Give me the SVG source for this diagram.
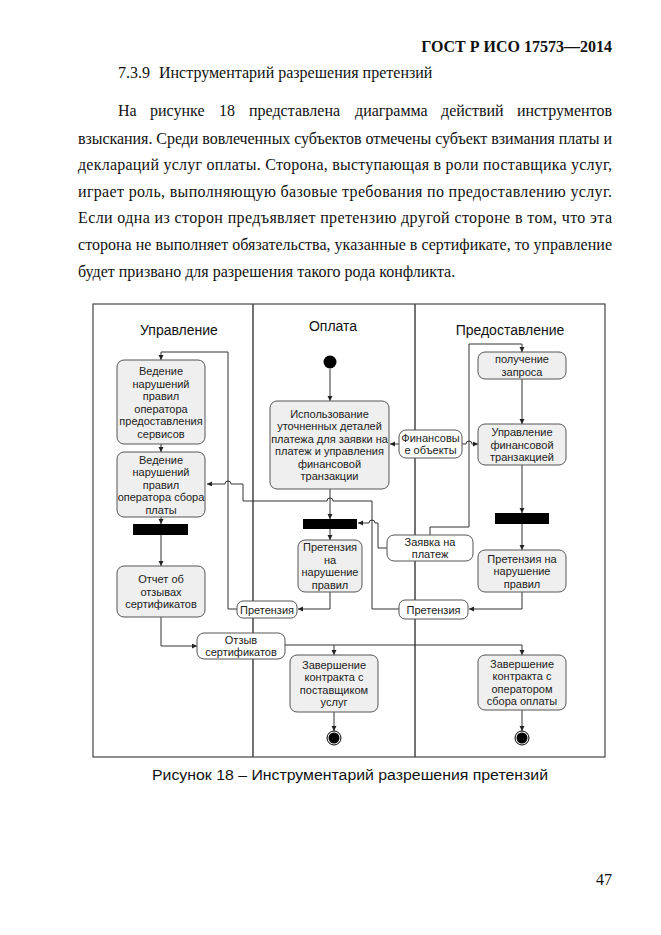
<svg xmlns="http://www.w3.org/2000/svg" width="661" height="935" viewBox="0 0 661 935">
<defs>
<style>
.page{font-family:"Liberation Serif","Times New Roman",serif;font-size:16px;fill:#111}
.act{fill:#efefef;stroke:#555;stroke-width:1}
.obj{fill:#fff;stroke:#555;stroke-width:1}
.t{font-family:"Liberation Sans",Arial,sans-serif;font-size:11px;fill:#222;text-anchor:middle}
.lt{font-family:"Liberation Sans",Arial,sans-serif;font-size:14px;fill:#111;text-anchor:middle}
.c{fill:none;stroke:#333;stroke-width:1}
.ca{fill:none;stroke:#333;stroke-width:1;marker-end:url(#ah)}
.bar{fill:#000}
.lane{fill:none;stroke:#444;stroke-width:1.5}
</style>
<marker id="ah" markerUnits="userSpaceOnUse" markerWidth="6" markerHeight="6" refX="5" refY="2.5" orient="auto">
<path d="M0,0 L5,2.5 L0,5 z" fill="#222"/>
</marker>
</defs>
<rect width="661" height="935" fill="#fff"/>

<g id="page-text">
<text class="page" x="612" y="52" text-anchor="end" font-weight="bold" font-size="13.5">ГОСТ Р ИСО 17573—2014</text>
<text class="page" y="78"><tspan x="118">7.3.9</tspan><tspan x="159">Инструментарий разрешения претензий</tspan></text>
<text class="page" y="116"><tspan x="118">На</tspan><tspan x="150">рисунке</tspan><tspan x="219">18</tspan><tspan x="249">представлена</tspan><tspan x="355">диаграмма</tspan><tspan x="441">действий</tspan></text>
<text class="page" x="612" y="116" text-anchor="end">инструментов</text>
<text class="page" x="78" y="144" textLength="534" lengthAdjust="spacing">взыскания. Среди вовлеченных субъектов отмечены субъект взимания платы и</text>
<text class="page" x="78" y="170" textLength="534" lengthAdjust="spacing">деклараций услуг оплаты. Сторона, выступающая в роли поставщика услуг,</text>
<text class="page" x="78" y="197" textLength="534" lengthAdjust="spacing">играет роль, выполняющую базовые требования по предоставлению услуг.</text>
<text class="page" x="78" y="223" textLength="534" lengthAdjust="spacing">Если одна из сторон предъявляет претензию другой стороне в том, что эта</text>
<text class="page" x="78" y="250" textLength="534" lengthAdjust="spacing">сторона не выполняет обязательства, указанные в сертификате, то управление</text>
<text class="page" x="78" y="277">будет призвано для разрешения такого рода конфликта.</text>
<text x="350" y="780" text-anchor="middle" font-family="'Liberation Sans',Arial,sans-serif" font-size="15.5" fill="#111" textLength="396" lengthAdjust="spacingAndGlyphs">Рисунок 18 – Инструментарий разрешения претензий</text>
<text class="page" x="612" y="885" text-anchor="end">47</text>
</g>

<g id="frame">
<rect x="93" y="304" width="512" height="453" fill="none" stroke="#444" stroke-width="1.2"/>
<line class="lane" x1="253" y1="304" x2="253" y2="757"/>
<line class="lane" x1="415" y1="304" x2="415" y2="757"/>
<text class="lt" x="179" y="335">Управление</text>
<text class="lt" x="333" y="331">Оплата</text>
<text class="lt" x="510" y="335">Предоставление</text>
</g>

<g id="connectors">
<path class="ca" d="M161,444 L161,452"/>
<path class="ca" d="M161,517 L161,524"/>
<path class="ca" d="M161,535 L161,566"/>
<path class="ca" d="M161,617 L161,646 L197,646"/>
<path class="ca" d="M237,609 L228,609 L228,352 L161,352 L161,360"/>
<path class="ca" d="M399,609 L372,609 L372,501 L333,501 A3,3 0 0 0 327,501 L243,501 L243,484 L231,484 A3,3 0 0 0 225,484 L207,484"/>
<path class="ca" d="M330,369 L330,401"/>
<path class="ca" d="M330,489 L330,519"/>
<path class="ca" d="M330,529 L330,540"/>
<path class="ca" d="M330,592 L330,609 L298,609"/>
<path class="ca" d="M399,444 L390,444"/>
<path class="ca" d="M462,444 L466,444 A3,3 0 0 1 472,444 L478,444"/>
<path class="ca" d="M387,548 L378,548 L378,523 L375,523 A3,3 0 0 0 369,523 L358,523"/>
<path class="ca" d="M430,535 L430,527 L469,527 L469,344 L522,344 L522,352"/>
<path class="ca" d="M522,379 L522,424"/>
<path class="ca" d="M522,465 L522,513"/>
<path class="ca" d="M522,524 L522,550"/>
<path class="ca" d="M522,592 L522,609 L469,609"/>
<path class="ca" d="M285,645 L522,645 L522,655"/>
<path class="ca" d="M334,645 L334,655"/>
<path class="ca" d="M334,712 L334,731"/>
<path class="ca" d="M522,710 L522,731"/>
</g>

<g id="node-a">
<rect class="act" x="117" y="360" width="88" height="84" rx="7"/>
<text class="t"><tspan x="161" y="375">Ведение</tspan><tspan x="161" y="387.5">нарушений</tspan><tspan x="161" y="400">правил</tspan><tspan x="161" y="412.5">оператора</tspan><tspan x="161" y="425">предоставления</tspan><tspan x="161" y="437.5">сервисов</tspan></text>
</g>
<g id="node-b">
<rect class="act" x="117" y="452" width="88" height="65" rx="7"/>
<text class="t"><tspan x="161" y="463.5">Ведение</tspan><tspan x="161" y="476">нарушений</tspan><tspan x="161" y="488.5">правил</tspan><tspan x="161" y="501">оператора сбора</tspan><tspan x="161" y="513.5">платы</tspan></text>
</g>
<g id="fork-1"><rect class="bar" x="133" y="524" width="55" height="11"/></g>
<g id="node-c">
<rect class="act" x="117" y="566" width="88" height="51" rx="7"/>
<text class="t"><tspan x="161" y="583">Отчет об</tspan><tspan x="161" y="595.5">отзывах</tspan><tspan x="161" y="608">сертификатов</tspan></text>
</g>

<g id="start"><circle cx="330" cy="362" r="6.5" fill="#000"/></g>
<g id="node-use">
<rect class="act" x="270" y="401" width="119" height="88" rx="7"/>
<text class="t"><tspan x="329.5" y="417.75">Использование</tspan><tspan x="329.5" y="430.25">уточненных деталей</tspan><tspan x="329.5" y="442.75">платежа для заявки на</tspan><tspan x="329.5" y="455.25">платеж и управления</tspan><tspan x="329.5" y="467.75">финансовой</tspan><tspan x="329.5" y="480.25">транзакции</tspan></text>
</g>
<g id="fork-2"><rect class="bar" x="303" y="519" width="54" height="10"/></g>
<g id="node-claim-mid">
<rect class="act" x="298" y="540" width="64" height="52" rx="7"/>
<text class="t"><tspan x="330" y="551.25">Претензия</tspan><tspan x="330" y="563.75">на</tspan><tspan x="330" y="576.25">нарушение</tspan><tspan x="330" y="588.75">правил</tspan></text>
</g>
<g id="node-end-provider">
<rect class="act" x="290" y="655" width="88" height="57" rx="7"/>
<text class="t"><tspan x="334" y="668.75">Завершение</tspan><tspan x="334" y="681.25">контракта с</tspan><tspan x="334" y="693.75">поставщиком</tspan><tspan x="334" y="706.25">услуг</tspan></text>
</g>
<g id="final-mid"><circle cx="334" cy="738" r="7" fill="#fff" stroke="#000" stroke-width="1"/><circle cx="334" cy="738" r="5.5" fill="#000"/></g>

<g id="node-receive">
<rect class="act" x="478" y="352" width="88" height="27" rx="7"/>
<text class="t"><tspan x="522" y="363.25">получение</tspan><tspan x="522" y="375.75">запроса</tspan></text>
</g>
<g id="node-manage">
<rect class="act" x="478" y="424" width="88" height="41" rx="7"/>
<text class="t"><tspan x="522" y="436">Управление</tspan><tspan x="522" y="448.5">финансовой</tspan><tspan x="522" y="461">транзакцией</tspan></text>
</g>
<g id="fork-3"><rect class="bar" x="495" y="513" width="54" height="11"/></g>
<g id="node-claim-right">
<rect class="act" x="478" y="550" width="88" height="42" rx="7"/>
<text class="t"><tspan x="522" y="562.5">Претензия на</tspan><tspan x="522" y="575">нарушение</tspan><tspan x="522" y="587.5">правил</tspan></text>
</g>
<g id="node-end-operator">
<rect class="act" x="478" y="655" width="88" height="55" rx="7"/>
<text class="t"><tspan x="522" y="667.75">Завершение</tspan><tspan x="522" y="680.25">контракта с</tspan><tspan x="522" y="692.75">оператором</tspan><tspan x="522" y="705.25">сбора оплаты</tspan></text>
</g>
<g id="final-right"><circle cx="522" cy="738" r="7" fill="#fff" stroke="#000" stroke-width="1"/><circle cx="522" cy="738" r="5.5" fill="#000"/></g>

<g id="obj-fin">
<rect class="obj" x="399" y="430" width="63" height="28" rx="7"/>
<text class="t"><tspan x="430.5" y="441.75">Финансовы</tspan><tspan x="430.5" y="454.25">е объекты</tspan></text>
</g>
<g id="obj-request">
<rect class="obj" x="387" y="535" width="86" height="26" rx="7"/>
<text class="t"><tspan x="430" y="545.75">Заявка на</tspan><tspan x="430" y="558.25">платеж</tspan></text>
</g>
<g id="obj-claim-left">
<rect class="obj" x="237" y="601" width="60" height="17" rx="6"/>
<text class="t" x="267" y="613.5">Претензия</text>
</g>
<g id="obj-claim-right">
<rect class="obj" x="399" y="600" width="69" height="19" rx="6"/>
<text class="t" x="433.5" y="613.5">Претензия</text>
</g>
<g id="obj-review">
<rect class="obj" x="197" y="633" width="88" height="26" rx="7"/>
<text class="t"><tspan x="241" y="643.75">Отзыв</tspan><tspan x="241" y="656.25">сертификатов</tspan></text>
</g>
</svg>
